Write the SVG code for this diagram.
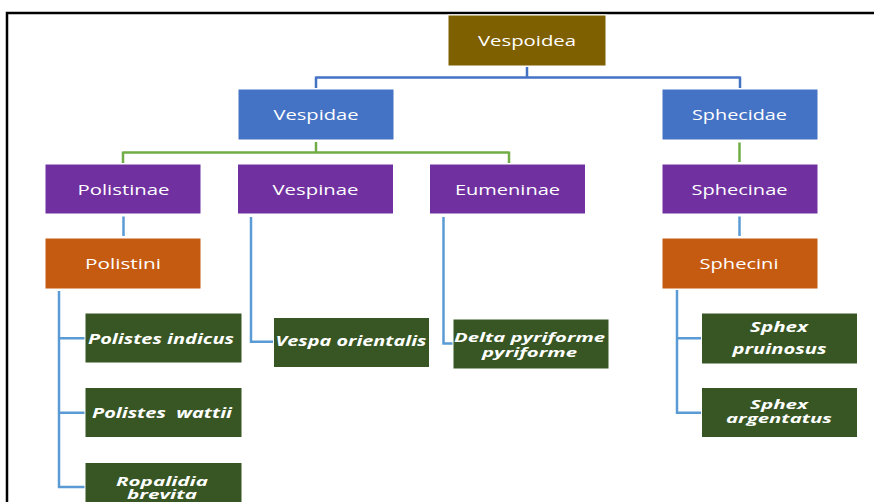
<svg xmlns="http://www.w3.org/2000/svg" width="874" height="502" viewBox="0 0 874 502">
<style>
.frame{fill:none;stroke:#000;stroke-width:2.5}
.box{stroke:#fff;stroke-width:1}
.l1{fill:#7F6000}.l2{fill:#4472C4}.l3{fill:#7030A0}.l4{fill:#C55A11}.l5{fill:#375623}
.t{font-family:"Open Sans","Noto Sans",sans-serif;font-size:15px;fill:#fff;text-anchor:middle}
.s{font-family:"Open Sans","Noto Sans",sans-serif;font-size:15px;fill:#fff;text-anchor:middle;font-weight:bold;font-style:italic}
.s2{font-size:13px}
.c1{fill:none;stroke:#4472C4;stroke-width:2.5}
.c2{fill:none;stroke:#70AD47;stroke-width:2.5}
.c3{fill:none;stroke:#5B9BD5;stroke-width:2.5}
</style>
<rect x="7" y="13" width="880" height="500" class="frame"/>
<g id="connectors">
<path class="c1" d="M527,67 V77.5 M316,77.5 H740 M316,76.5 V88 M740,76.5 V88"/>
<path class="c2" d="M316,142 V152.5 M123,152.5 H509 M123,151.5 V163 M509,151.5 V163 M739.5,142.5 V162"/>
<path class="c3" d="M123.5,216.5 V236 M739.5,216.5 V236"/>
<path class="c3" d="M59,291 V487 H85 M59,338.3 H85 M59,412.7 H85"/>
<path class="c3" d="M251,217 V341.7 H273"/>
<path class="c3" d="M443.5,217 V343.5 H453"/>
<path class="c3" d="M677,290 V412.7 H701 M677,338.3 H701"/>
</g>
<g id="vespoidea"><rect class="box l1" x="448" y="15" width="158" height="51"/><text class="t" x="527" y="45.5" textLength="98" lengthAdjust="spacingAndGlyphs">Vespoidea</text></g>
<g id="vespidae"><rect class="box l2" x="238" y="89" width="156" height="51"/><text class="t" x="316" y="119.5" textLength="85" lengthAdjust="spacingAndGlyphs">Vespidae</text></g>
<g id="sphecidae"><rect class="box l2" x="662" y="89" width="156" height="51"/><text class="t" x="739.5" y="119.5" textLength="95" lengthAdjust="spacingAndGlyphs">Sphecidae</text></g>
<g id="polistinae"><rect class="box l3" x="45" y="164" width="156" height="50"/><text class="t" x="123.5" y="194.5" textLength="92" lengthAdjust="spacingAndGlyphs">Polistinae</text></g>
<g id="vespinae"><rect class="box l3" x="237.5" y="164" width="156" height="50"/><text class="t" x="315.5" y="194.5" textLength="86" lengthAdjust="spacingAndGlyphs">Vespinae</text></g>
<g id="eumeninae"><rect class="box l3" x="429.5" y="164" width="156" height="50"/><text class="t" x="507.5" y="194.5" textLength="105" lengthAdjust="spacingAndGlyphs">Eumeninae</text></g>
<g id="sphecinae"><rect class="box l3" x="662" y="164" width="156" height="50"/><text class="t" x="739.5" y="194.5" textLength="96" lengthAdjust="spacingAndGlyphs">Sphecinae</text></g>
<g id="polistini"><rect class="box l4" x="45" y="238" width="156" height="51"/><text class="t" x="123" y="269" textLength="76" lengthAdjust="spacingAndGlyphs">Polistini</text></g>
<g id="sphecini"><rect class="box l4" x="662" y="238" width="156" height="51"/><text class="t" x="739" y="269" textLength="79" lengthAdjust="spacingAndGlyphs">Sphecini</text></g>
<g id="polistes-indicus"><rect class="box l5" x="85" y="313" width="157" height="50"/><text class="s" x="161" y="343.5" textLength="146" lengthAdjust="spacingAndGlyphs">Polistes indicus</text></g>
<g id="polistes-wattii"><rect class="box l5" x="85" y="387.5" width="157" height="50"/><text class="s" x="162" y="418" textLength="140" lengthAdjust="spacingAndGlyphs" xml:space="preserve">Polistes  wattii</text></g>
<g id="ropalidia-brevita"><rect class="box l5" x="85" y="462.5" width="157" height="50"/><text class="s s2" x="162" y="485.5" textLength="92" lengthAdjust="spacingAndGlyphs">Ropalidia</text><text class="s s2" x="162" y="499" textLength="70" lengthAdjust="spacingAndGlyphs">brevita</text></g>
<g id="vespa-orientalis"><rect class="box l5" x="273.5" y="317.5" width="156" height="50"/><text class="s" x="351" y="346" textLength="151" lengthAdjust="spacingAndGlyphs">Vespa orientalis</text></g>
<g id="delta-pyriforme"><rect class="box l5" x="453" y="319" width="156" height="50"/><text class="s s2" x="529.5" y="341.5" textLength="151" lengthAdjust="spacingAndGlyphs">Delta pyriforme</text><text class="s s2" x="529.5" y="356.5" textLength="95" lengthAdjust="spacingAndGlyphs">pyriforme</text></g>
<g id="sphex-pruinosus"><rect class="box l5" x="701.5" y="313" width="156" height="51"/><text class="s" x="779" y="332.3" textLength="58" lengthAdjust="spacingAndGlyphs">Sphex</text><text class="s" x="779.5" y="354" textLength="94" lengthAdjust="spacingAndGlyphs">pruinosus</text></g>
<g id="sphex-argentatus"><rect class="box l5" x="701.5" y="387.5" width="156" height="50"/><text class="s s2" x="779" y="409" textLength="58" lengthAdjust="spacingAndGlyphs">Sphex</text><text class="s s2" x="779" y="423.3" textLength="106" lengthAdjust="spacingAndGlyphs">argentatus</text></g>
</svg>
